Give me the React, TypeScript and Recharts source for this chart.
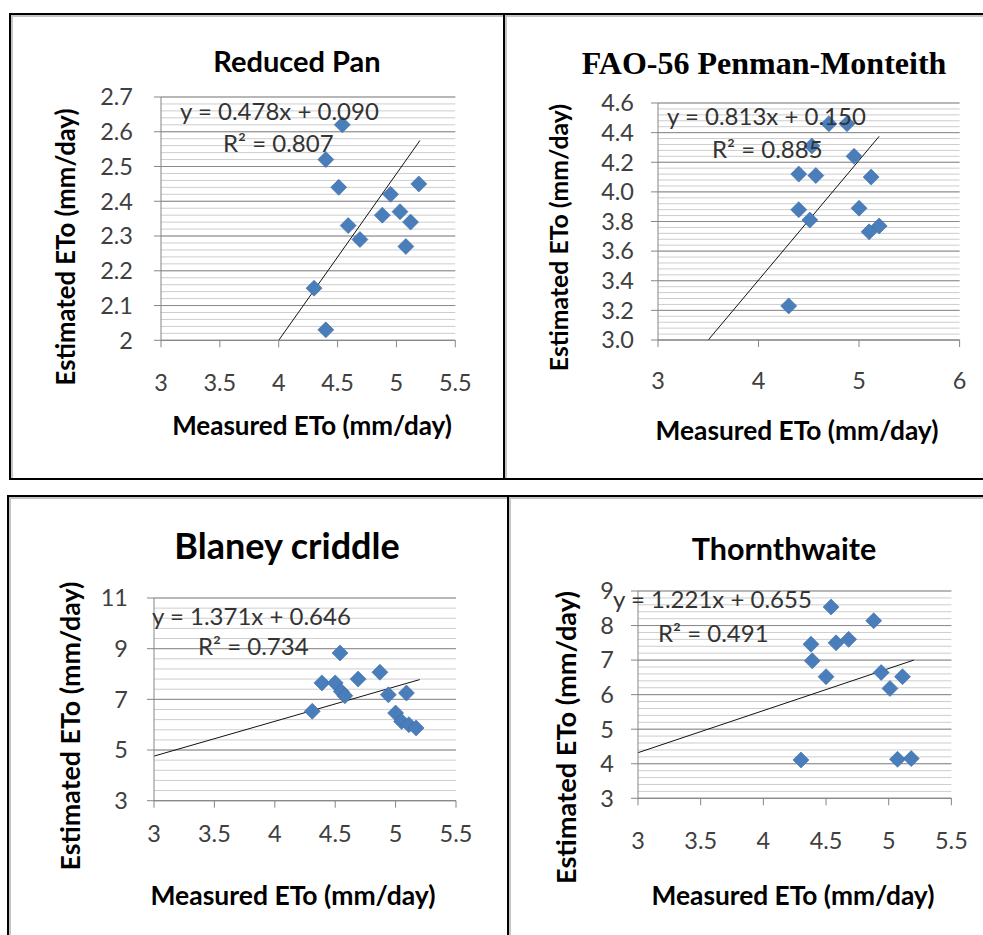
import React from 'react';
import { ScatterChart, Scatter, XAxis, YAxis, CartesianGrid, ReferenceLine } from 'recharts';

// measured vs estimated ETo
const panX = [4.54, 4.40, 4.51, 4.95, 5.19, 4.88, 5.03, 5.12, 4.59, 4.69, 5.08, 4.30, 4.40];
const panY = [2.62, 2.52, 2.44, 2.42, 2.45, 2.36, 2.37, 2.34, 2.33, 2.29, 2.27, 2.15, 2.03];

const faoX = [4.70, 4.88, 4.53, 4.95, 4.40, 4.57, 5.12, 4.40, 4.51, 5.00, 5.10, 5.20, 4.30];
const faoY = [4.46, 4.46, 4.31, 4.24, 4.12, 4.11, 4.10, 3.88, 3.81, 3.89, 3.73, 3.77, 3.23];

const blaneyX = [4.54, 4.87, 4.39, 4.50, 4.69, 4.55, 4.58, 4.31, 4.94, 5.09, 5.00, 5.05, 5.11, 5.17];
const blaneyY = [8.83, 8.07, 7.65, 7.65, 7.80, 7.31, 7.14, 6.53, 7.18, 7.25, 6.46, 6.13, 6.00, 5.87];

const thornX = [4.54, 4.88, 4.38, 4.58, 4.68, 4.39, 4.50, 4.94, 5.11, 5.01, 4.30, 5.07, 5.18];
const thornY = [8.54, 8.14, 7.46, 7.50, 7.60, 6.98, 6.52, 6.64, 6.52, 6.18, 4.11, 4.13, 4.15];

// trendline end points as drawn
const panTrend = [{ x: 4.0, y: 2.0 }, { x: 5.2, y: 2.575 }];
const faoTrend = [{ x: 3.5, y: 3.0 }, { x: 5.2, y: 4.375 }];
const blaneyTrend = [{ x: 3, y: 4.76 }, { x: 5.2, y: 7.78 }];
const thornTrend = [{ x: 3, y: 4.32 }, { x: 5.2, y: 7.0 }];

const xTicksHalf = [3, 3.5, 4, 4.5, 5, 5.5];
const xTicksOne = [3, 4, 5, 6];
const panYTicks = [2, 2.1, 2.2, 2.3, 2.4, 2.5, 2.6, 2.7];
const faoYTicks = [3.0, 3.2, 3.4, 3.6, 3.8, 4.0, 4.2, 4.4, 4.6];
const blaneyYTicks = [3, 5, 7, 9, 11];
const thornYTicks = [3, 4, 5, 6, 7, 8, 9];

const steps = (lo: number, hi: number, step: number) => {
  const out: number[] = [];
  for (let v = lo; v <= hi + 1e-9; v += step) out.push(+v.toFixed(4));
  return out;
};

const FONT = 'Lato, "Open Sans", sans-serif';
const BLUE = '#4a7ebb';

const Diamond = (p: any) => {
  const { cx, cy } = p;
  const r = 8;
  return <path d={`M${cx},${cy - r}L${cx + r},${cy}L${cx},${cy + r}L${cx - r},${cy}Z`} fill={BLUE} stroke="#3b6aa3" strokeWidth={0.6} />;
};

type PlotProps = {
  box: { x0: number; y0: number; x1: number; y1: number };
  xs: number[]; ys: number[];
  xTicks: number[]; yTicks: number[]; minor: number;
  trend: { x: number; y: number }[];
  yFmt?: (v: number) => string;
  yGap: number; xGap: number;
};

function Plot({ box, xs, ys, xTicks, yTicks, minor, trend, yFmt, yGap, xGap }: PlotProps) {
  const YW = 80, TOP = 15, RIGHT = 25, XH = 60;
  const w = box.x1 - box.x0, h = box.y1 - box.y0;
  const data = xs.map((x, i) => ({ x, y: ys[i] }));
  const yLo = yTicks[0], yHi = yTicks[yTicks.length - 1];
  const axisStyle = { stroke: '#868686' };
  const tickStyle = { fill: '#404040', fontSize: 23.5, fontFamily: FONT };
  return (
    <div style={{ position: 'absolute', left: box.x0 - YW, top: box.y0 - TOP }}>
      <ScatterChart width={w + YW + RIGHT} height={h + TOP + XH} margin={{ top: TOP, right: RIGHT, bottom: 0, left: 0 }}>
        <CartesianGrid vertical={false} horizontalValues={steps(yLo, yHi, minor)} stroke="#cdcdcd" />
        <CartesianGrid vertical={false} horizontalValues={yTicks} stroke="#8a8a8a" />
        <XAxis type="number" dataKey="x" domain={[xTicks[0], xTicks[xTicks.length - 1]]} ticks={xTicks} interval={0}
          height={XH} tickSize={7} tickMargin={xGap} axisLine={axisStyle} tickLine={axisStyle} tick={tickStyle} />
        <YAxis type="number" dataKey="y" domain={[yLo, yHi]} ticks={yTicks} interval={0} width={YW}
          tickSize={7} tickMargin={yGap} axisLine={axisStyle} tickLine={axisStyle} tick={tickStyle}
          tickFormatter={yFmt} />
        <Scatter data={data} shape={Diamond} isAnimationActive={false} />
        <ReferenceLine segment={trend} stroke="#111" strokeWidth={1} ifOverflow="hidden" />
      </ScatterChart>
    </div>
  );
}

const border = (left: number, top: number, width: number, height: number) => (
  <div style={{
    position: 'absolute', left, top, width, height, boxSizing: 'border-box',
    border: '2px solid #000', boxShadow: 'inset 2px 2px 0 #c4c4c4',
  }} />
);

function Txt({ x, y, size, children, bold = true, rotate = false, anchor = 'middle', family = FONT, fill = '#000' }: any) {
  return (
    <text x={x} y={y} fontSize={size} fontWeight={bold ? 700 : 400} fontFamily={family} fill={fill}
      textAnchor={anchor} dominantBaseline="central"
      transform={rotate ? `rotate(-90 ${x} ${y})` : undefined}>{children}</text>
  );
}

export default function App() {
  return (
    <div style={{ position: 'absolute', left: 0, top: 0, width: 983, height: 935, background: '#fff', overflow: 'hidden' }}>
      {border(9, 13, 496, 467)}
      {border(503, 13, 520, 467)}
      {border(7, 495, 502, 500)}
      {border(507, 495, 520, 500)}

      <Plot box={{ x0: 160.7, y0: 96.7, x1: 455, y1: 340 }} xs={panX} ys={panY} xTicks={xTicksHalf}
        yTicks={panYTicks} minor={0.02} trend={panTrend} yGap={21} xGap={27} />
      <Plot box={{ x0: 657.7, y0: 103, x1: 959.3, y1: 340 }} xs={faoX} ys={faoY} xTicks={xTicksOne}
        yTicks={faoYTicks} minor={0.04} trend={faoTrend} yGap={17} xGap={25} yFmt={(v) => v.toFixed(1)} />
      <Plot box={{ x0: 154, y0: 598.3, x1: 456, y1: 801 }} xs={blaneyX} ys={blaneyY} xTicks={xTicksHalf}
        yTicks={blaneyYTicks} minor={0.4} trend={blaneyTrend} yGap={19} xGap={18} />
      <Plot box={{ x0: 638.3, y0: 591, x1: 951.7, y1: 798.3 }} xs={thornX} ys={thornY} xTicks={xTicksHalf}
        yTicks={thornYTicks} minor={0.2} trend={thornTrend} yGap={17} xGap={27} />

      <svg width={983} height={935} style={{ position: 'absolute', left: 0, top: 0, pointerEvents: 'none' }}>
        <Txt x={297} y={60} size={29}>Reduced Pan</Txt>
        <Txt x={764} y={63} size={32} family='"Liberation Serif", "Times New Roman", serif'>FAO-56 Penman-Monteith</Txt>
        <Txt x={287} y={545} size={36}>Blaney criddle</Txt>
        <Txt x={784} y={548} size={30.5}>Thornthwaite</Txt>

        <Txt x={65} y={247} size={25.7} rotate>Estimated ETo (mm/day)</Txt>
        <Txt x={558} y={237.5} size={24.8} rotate>Estimated ETo (mm/day)</Txt>
        <Txt x={70} y={726} size={26.8} rotate>Estimated ETo (mm/day)</Txt>
        <Txt x={565} y={737.5} size={27.2} rotate>Estimated ETo (mm/day)</Txt>

        <Txt x={312} y={425} size={26}>Measured ETo (mm/day)</Txt>
        <Txt x={797} y={430} size={26.3}>Measured ETo (mm/day)</Txt>
        <Txt x={293} y={895} size={26.5}>Measured ETo (mm/day)</Txt>
        <Txt x={793} y={895} size={26.3}>Measured ETo (mm/day)</Txt>

        <Txt x={180} y={110} size={24} bold={false} anchor="start" fill="#333">y = 0.478x + 0.090</Txt>
        <Txt x={223} y={142} size={24} bold={false} anchor="start" fill="#333">R² = 0.807</Txt>
        <Txt x={667} y={115} size={24} bold={false} anchor="start" fill="#333">y = 0.813x + 0.150</Txt>
        <Txt x={712} y={148} size={24} bold={false} anchor="start" fill="#333">R² = 0.885</Txt>
        <Txt x={152} y={615} size={24} bold={false} anchor="start" fill="#333">y = 1.371x + 0.646</Txt>
        <Txt x={198} y={645} size={24} bold={false} anchor="start" fill="#333">R² = 0.734</Txt>
        <Txt x={613} y={598} size={24} bold={false} anchor="start" fill="#333">y = 1.221x + 0.655</Txt>
        <Txt x={658} y={632} size={24} bold={false} anchor="start" fill="#333">R² = 0.491</Txt>
      </svg>
    </div>
  );
}
